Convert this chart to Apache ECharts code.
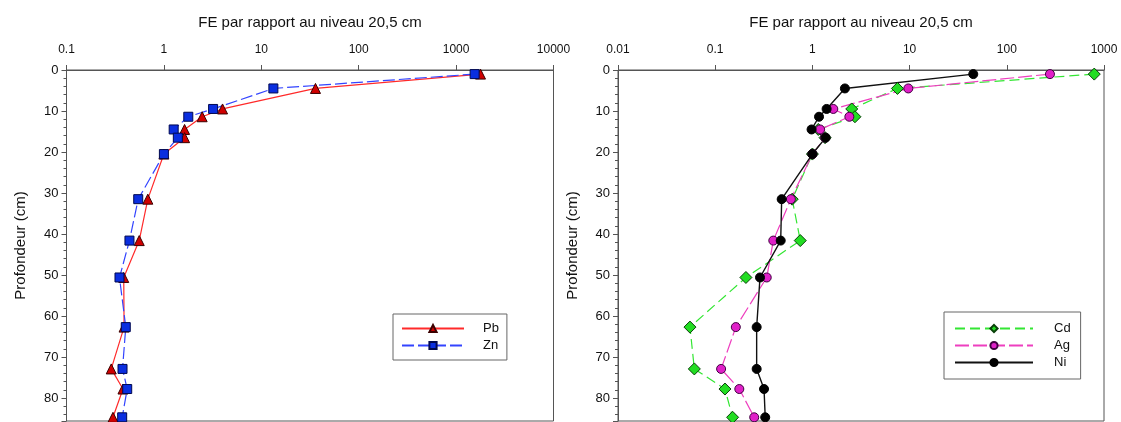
<!DOCTYPE html>
<html>
<head>
<meta charset="utf-8">
<script src="https://cdn.jsdelivr.net/npm/echarts@6/dist/echarts.min.js"></script>
<style>
html,body{margin:0;padding:0;background:#fff;}
#c{width:1121px;height:422px;}
</style>
</head>
<body>
<div id="c"></div>
<script>
// Depth (cm) of each sample level
const depths = [1, 4.5, 9.5, 11.4, 14.5, 16.5, 20.5, 31.5, 41.6, 50.6, 62.7, 72.9, 77.8, 84.7];
// Left panel: enrichment factors
const pb = [1780, 36, 4.0, 2.47, 1.63, 1.63, 1.0, 0.684, 0.558, 0.387, 0.39, 0.288, 0.38, 0.30];
const zn = [1550, 13.3, 3.2, 1.78, 1.26, 1.39, 1.0, 0.545, 0.443, 0.35, 0.406, 0.376, 0.42, 0.373];
// Right panel
const cd = [794, 7.5, 2.54, 2.74, 1.15, 1.35, 1.0, 0.62, 0.75, 0.207, 0.055, 0.061, 0.126, 0.151];
const ag = [278, 9.7, 1.64, 2.40, 1.20, 1.35, 1.0, 0.60, 0.396, 0.339, 0.163, 0.115, 0.177, 0.252];
const ni = [45.2, 2.16, 1.40, 1.17, 0.98, 1.37, 1.0, 0.483, 0.472, 0.289, 0.267, 0.267, 0.318, 0.327];

const xTitle = 'FE par rapport au niveau 20,5 cm';
const yTitle = 'Profondeur (cm)';
const legendLeft = ['Pb', 'Zn'];
const legendRight = ['Cd', 'Ag', 'Ni'];

const FONT = '"Liberation Sans", Arial, sans-serif';
const pair = arr => arr.map((v, i) => [v, depths[i]]);
const fmt = v => String(Number(Number(v).toPrecision(3)));

const chart = echarts.init(document.getElementById('c'), null, {renderer: 'canvas'});

function xAxis(gi, min, max) {
  return {
    type: 'log', logBase: 10, gridIndex: gi, position: 'top', min: min, max: max,
    name: xTitle, nameLocation: 'middle', nameGap: 40,
    nameTextStyle: {fontFamily: FONT, fontSize: 15, color: '#111'},
    axisLine: {show: true, lineStyle: {color: '#555', width: 1}},
    axisTick: {show: true, inside: false, length: 5, lineStyle: {color: '#555'}},
    minorTick: {show: false},
    splitLine: {show: false},
    axisLabel: {fontFamily: FONT, fontSize: 12, color: '#111', margin: 14, formatter: fmt}
  };
}
function yAxis(gi) {
  return {
    type: 'value', gridIndex: gi, inverse: true, min: 0, max: 85.6, interval: 10,
    name: yTitle, nameLocation: 'middle', nameGap: 38,
    nameTextStyle: {fontFamily: FONT, fontSize: 15, color: '#111'},
    axisLine: {show: true, lineStyle: {color: '#555', width: 1}},
    axisTick: {show: true, inside: false, length: 5, lineStyle: {color: '#555'}},
    minorTick: {show: true, splitNumber: 5, length: 3, lineStyle: {color: '#555'}},
    splitLine: {show: false},
    axisLabel: {fontFamily: FONT, fontSize: 13, color: '#111', margin: 8, showMaxLabel: false}
  };
}
function ser(name, data, gi, opts) {
  return Object.assign({
    name: name, type: 'line', xAxisIndex: gi, yAxisIndex: gi,
    data: pair(data), showSymbol: true, animation: false, z: 2
  }, opts);
}

const option = {
  animation: false,
  backgroundColor: '#fff',
  grid: [
    {left: 66.5, top: 70, width: 487, height: 351, show: true, borderColor: '#555', borderWidth: 1},
    {left: 618, top: 70, width: 486, height: 351, show: true, borderColor: '#555', borderWidth: 1}
  ],
  xAxis: [xAxis(0, 0.1, 10000), xAxis(1, 0.01, 1000)],
  yAxis: [yAxis(0), yAxis(1)],
  legend: [
    {
      data: legendLeft, orient: 'vertical', left: 393, top: 314,
      backgroundColor: '#fff', borderColor: '#666', borderWidth: 1,
      padding: [8, 8, 8, 8], itemGap: 4, itemWidth: 62, itemHeight: 9,
      textStyle: {fontFamily: FONT, fontSize: 13, color: '#111', padding: [0, 0, 0, 14]}
    },
    {
      data: legendRight, orient: 'vertical', left: 944, top: 312,
      backgroundColor: '#fff', borderColor: '#666', borderWidth: 1,
      padding: [10, 10, 10, 10], itemGap: 4, itemWidth: 78, itemHeight: 9,
      textStyle: {fontFamily: FONT, fontSize: 13, color: '#111', padding: [0, 0, 0, 16]}
    }
  ],
  series: [
    ser('Pb', pb, 0, {
      symbol: 'triangle', symbolSize: 10,
      lineStyle: {color: '#ff2a2a', width: 1.2, type: 'solid'},
      itemStyle: {color: '#d00000', borderColor: '#3a0000', borderWidth: 1}
    }),
    ser('Zn', zn, 0, {
      symbol: 'rect', symbolSize: 9,
      lineStyle: {color: '#3344ff', width: 1.2, type: [12, 4]},
      itemStyle: {color: '#0a2ee0', borderColor: '#000850', borderWidth: 1}
    }),
    ser('Cd', cd, 1, {
      symbol: 'diamond', symbolSize: 12,
      lineStyle: {color: '#33e633', width: 1.2, type: [10, 5]},
      itemStyle: {color: '#22dd22', borderColor: '#0a400a', borderWidth: 1}
    }),
    ser('Ag', ag, 1, {
      symbol: 'circle', symbolSize: 9,
      lineStyle: {color: '#ee3fbf', width: 1.2, type: [14, 4]},
      itemStyle: {color: '#e020c8', borderColor: '#400040', borderWidth: 1}
    }),
    ser('Ni', ni, 1, {
      symbol: 'circle', symbolSize: 9,
      lineStyle: {color: '#111', width: 1.4, type: 'solid'},
      itemStyle: {color: '#000', borderColor: '#000', borderWidth: 1}
    })
  ]
};
chart.setOption(option);
</script>
</body>
</html>
